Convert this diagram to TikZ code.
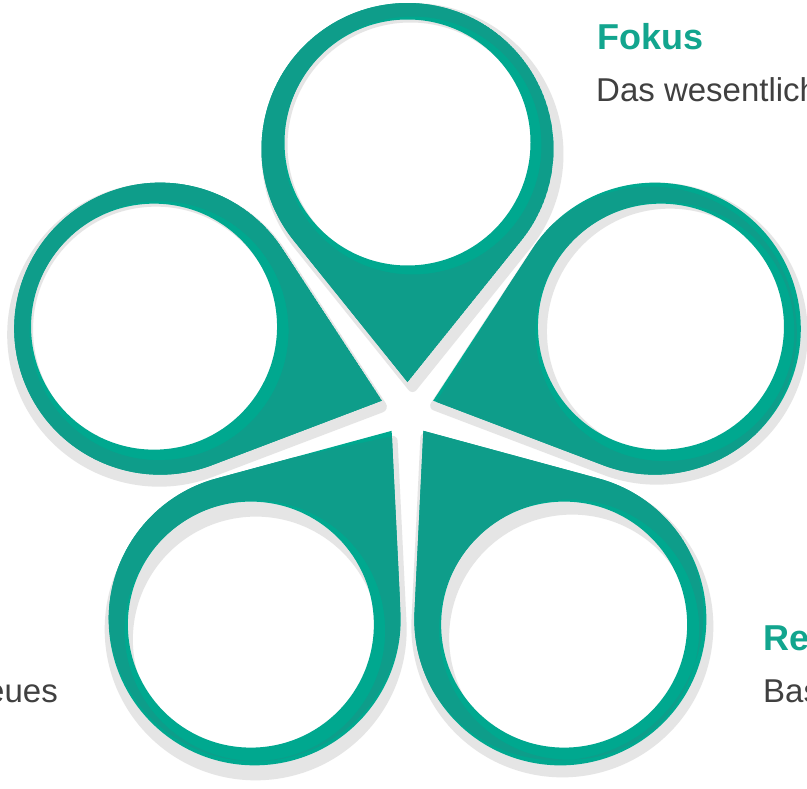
\documentclass[tikz,border=0pt]{standalone}
\usepackage{fontspec}
\setmainfont{Liberation Sans}
\definecolor{tdark}{RGB}{14,157,138}
\definecolor{tlight}{RGB}{0,168,143}
\definecolor{tshadow}{RGB}{229,229,229}
\definecolor{ttitle}{RGB}{18,165,142}
\definecolor{ttext}{RGB}{64,64,64}
% teardrop outline: #1 direction angle, #2/#3 offset, #4 tail rotation
\newcommand\tdshape[4]{({407.5+260*cos(#1)+(#2)},{409+260*sin(#1)+(#3)}) ++({#1+180+(#4)+51.21}:146) arc[start angle={#1+180+(#4)+51.21}, delta angle=257.58, radius=146] -- ({407.5+260*cos(#1)+(#2)+233*cos(#1+180+(#4))},{409+260*sin(#1)+(#3)+233*sin(#1+180+(#4))}) -- cycle}
\newcommand\tdhole[4]{({407.5+266.5*cos(#1)+(#2)},{409+266.5*sin(#1)+(#3)}) circle[radius={#4}]}
\newcommand\pinshadow[6]{%
  \fill[tshadow,even odd rule] \tdshape{#1}{#2}{#3}{0} \tdhole{#1}{#5}{#6}{123};
  \draw[tshadow,line width={2*#4}, line join=round] \tdshape{#1}{#2}{#3}{0};
}
\newcommand\pinbody[7]{%
  \fill[tlight,even odd rule] \tdshape{#1}{0}{0}{0} \tdhole{#1}{0}{0}{123};
  \begin{scope}
    \clip \tdshape{#1}{0}{0}{0};
    \fill[tdark,even odd rule] \tdshape{#1}{#2}{#3}{#4} \tdhole{#1}{#5}{#6}{123+#7};
  \end{scope}
}
\tikzset{
  title/.style={anchor=base west, inner sep=0pt, font=\fontsize{36}{43}\selectfont\bfseries, text=ttitle},
  body/.style={anchor=base west, inner sep=0pt, font=\fontsize{33}{40}\selectfont, text=ttext}
}
\begin{document}
\begin{tikzpicture}[x=1pt,y=-1pt]
\useasboundingbox (0,0) rectangle (807,789);
\fill[white] (0,0) rectangle (807,789);
% shadows
\pinshadow{-90}{5}{5}{5}{3}{3}
\pinshadow{-18}{2}{5}{5}{9}{5}
\pinshadow{54}{2}{7}{5}{8}{13}
\pinshadow{126}{1}{10}{5}{5}{15}
\pinshadow{198}{-1}{6}{6}{2}{3}
% pins
\pinbody{-90}{0}{0}{0}{5}{3}{6}
\pinbody{-18}{-4}{4}{-1.5}{4}{5}{6.5}
\pinbody{54}{-3}{-5}{0}{5}{5}{7.1}
\pinbody{126}{0}{-4}{3}{4}{6}{7.3}
\pinbody{198}{0}{0}{0}{5}{4}{6.5}
% texts
\node[title] (fokus) at (597,50) {Fokus};
\node[body] (fokustxt) at (596,102) {Das wesentlich};
\node[title] (re) at (763,650) {Re};
\node[body] (bas) at (763,702) {Bas};
\node[body, anchor=base east] (neues) at (58,702) {eues};
\end{tikzpicture}
\end{document}
